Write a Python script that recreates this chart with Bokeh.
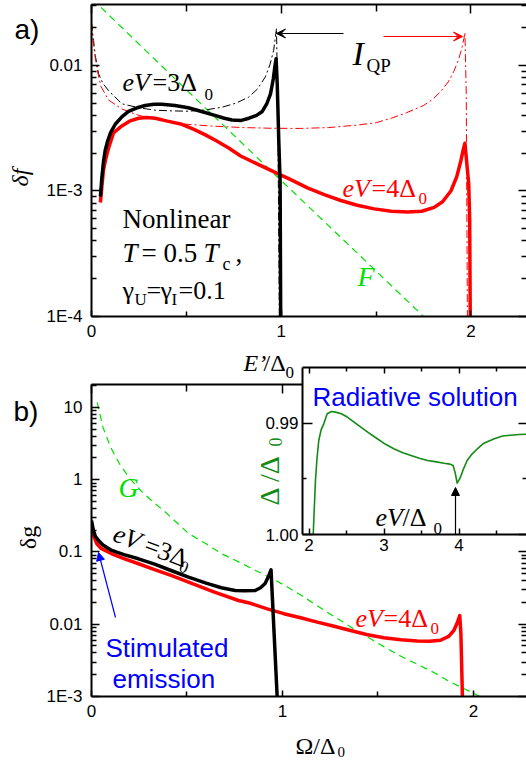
import math
from bokeh.plotting import figure
from bokeh.models import (Range1d, LinearAxis, LogAxis, FixedTicker, CustomJSTickFormatter,
                          Label, Arrow, VeeHead, NormalHead)
from bokeh.layouts import column
from bokeh.embed import file_html
from bokeh.resources import INLINE

# ---------------- data: panel a (delta f vs E'/Delta0) ----------------
E_a3 = [0.047, 0.055, 0.063, 0.072, 0.085, 0.1, 0.125, 0.16, 0.195, 0.24, 0.283, 0.33, 0.37, 0.44,
        0.51, 0.58, 0.65, 0.70, 0.74, 0.79, 0.83, 0.87, 0.90, 0.925, 0.943, 0.958, 0.966, 0.973,
        0.979, 0.987, 0.994, 0.997]
df_a3 = [0.0009, 0.0013, 0.0017, 0.0021, 0.0025, 0.0029, 0.0034, 0.0039, 0.0043, 0.0046, 0.0048,
         0.0049, 0.0049, 0.0048, 0.0046, 0.0043, 0.0040, 0.0038, 0.00368, 0.00365, 0.0038, 0.0040,
         0.0043, 0.0050, 0.0059, 0.0078, 0.0097, 0.0113, 0.0070, 0.0025, 0.0012, 0.0001]

E_a4 = [0.047, 0.055, 0.063, 0.075, 0.09, 0.116, 0.16, 0.2, 0.248, 0.29, 0.336, 0.4, 0.476, 0.54,
        0.6, 0.66, 0.723, 0.786, 0.87, 0.962, 1.05, 1.138, 1.23, 1.314, 1.4, 1.49, 1.58, 1.666,
        1.74, 1.806, 1.85, 1.894, 1.925, 1.947, 1.958, 1.968, 1.988, 1.993, 1.996]
df_a4 = [0.00081, 0.0011, 0.00146, 0.0018, 0.0022, 0.0029, 0.0033, 0.0036, 0.0038, 0.00385, 0.0038,
         0.0036, 0.0034, 0.0031, 0.0028, 0.0025, 0.0022, 0.0019, 0.00165, 0.00142, 0.00123, 0.00106,
         0.00093, 0.00084, 0.00077, 0.00072, 0.00069, 0.00068, 0.00069, 0.00074, 0.00082, 0.0010,
         0.0013, 0.00175, 0.0021, 0.0024, 0.00114, 0.0006, 0.0001]

E_a3i = [0.0, 0.006, 0.011, 0.02, 0.037, 0.06, 0.09, 0.16, 0.25, 0.336, 0.42, 0.512, 0.6, 0.688,
         0.76, 0.828, 0.875, 0.916, 0.94, 0.96, 0.975, 0.982, 0.99]
If_a3 = [0.022, 0.018, 0.0158, 0.012, 0.0086, 0.0072, 0.0063, 0.00495, 0.0046, 0.0044, 0.00435,
         0.00432, 0.00442, 0.00465, 0.0050, 0.00559, 0.0065, 0.0081, 0.0101, 0.0132, 0.0197, 0.004,
         0.0001]

E_a4i = [0.0, 0.006, 0.011, 0.02, 0.03, 0.05, 0.09, 0.16, 0.25, 0.35, 0.5, 0.65, 0.8, 0.95, 1.1,
         1.25, 1.4, 1.5, 1.58, 1.66, 1.75, 1.8, 1.84, 1.88, 1.91, 1.935, 1.952, 1.963, 1.968, 1.975,
         1.981]
If_a4 = [0.022, 0.017, 0.0145, 0.0115, 0.0092, 0.0068, 0.0053, 0.0045, 0.0040, 0.0037, 0.0034,
         0.00328, 0.0032, 0.00316, 0.00315, 0.0032, 0.00335, 0.0035, 0.0038, 0.0042, 0.0048, 0.0054,
         0.0062, 0.0074, 0.0090, 0.0112, 0.0138, 0.0165, 0.0183, 0.006, 0.0001]

F_E = [0.05, 0.5, 1.0, 1.5, 1.75]
F_val = [0.029, 0.0064, 0.00121, 0.00023, 0.0001]

# ---------------- data: panel b (delta g vs Omega/Delta0) ----------------
Om_b3 = [0.0, 0.01, 0.02, 0.037, 0.06, 0.106, 0.17, 0.246, 0.33, 0.42, 0.508, 0.6, 0.68, 0.752,
         0.8, 0.857, 0.885, 0.909, 0.925, 0.94, 0.972]
dg_b3 = [0.273, 0.2, 0.165, 0.144, 0.125, 0.105, 0.092, 0.0805, 0.068, 0.055, 0.0448, 0.037, 0.032,
         0.0293, 0.029, 0.0293, 0.032, 0.0366, 0.045, 0.0567, 0.001]

Om_b4 = [0.0, 0.01, 0.028, 0.05, 0.106, 0.17, 0.246, 0.33, 0.42, 0.508, 0.64, 0.77, 0.832, 0.92,
         1.007, 1.1, 1.182, 1.27, 1.356, 1.44, 1.53, 1.62, 1.705, 1.77, 1.827, 1.87, 1.897, 1.915,
         1.928, 1.934, 1.942]
dg_b4 = [0.245, 0.17, 0.13, 0.112, 0.0944, 0.081, 0.0687, 0.057, 0.047, 0.0382, 0.028, 0.0213,
         0.0195, 0.0163, 0.0140, 0.0122, 0.0107, 0.0094, 0.0082, 0.0072, 0.00649, 0.0061, 0.00585,
         0.00582, 0.006, 0.0068, 0.0082, 0.0105, 0.0132, 0.0074, 0.001]

Om_G = [0.03, 0.06, 0.1, 0.15, 0.2, 0.257, 0.32, 0.385, 0.45, 0.508, 0.6, 0.683, 0.77, 0.857, 0.93,
        1.007, 1.1, 1.182, 1.27, 1.356, 1.44, 1.53, 1.62, 1.705, 1.8, 1.88, 1.96, 2.04]
G_val = [11.8, 5.3, 2.82, 1.6, 1.05, 0.71, 0.5, 0.36, 0.25, 0.18, 0.13, 0.094, 0.073, 0.056, 0.045,
         0.035, 0.025, 0.018, 0.0128, 0.0092, 0.0068, 0.0049, 0.0036, 0.0028, 0.0021, 0.00158,
         0.00125, 0.00098]

# ---------------- data: inset (Delta/Delta0 vs eV/Delta0) ----------------
eV_in = [2.055, 2.07, 2.085, 2.105, 2.129, 2.16, 2.196, 2.241, 2.3, 2.352, 2.43, 2.51, 2.6, 2.69,
         2.8, 2.91, 3.02, 3.13, 3.25, 3.36, 3.47, 3.58, 3.7, 3.8, 3.88, 3.921, 3.95, 3.975, 4.0,
         4.019, 4.06, 4.108, 4.17, 4.245, 4.33, 4.47, 4.58, 4.69, 4.8, 4.9]
Delta_in = [1.000, 0.9975, 0.99515, 0.9932, 0.99156, 0.9906, 0.99006, 0.98916, 0.98895, 0.98901,
            0.98915, 0.98945, 0.9899, 0.99036, 0.9909, 0.9914, 0.9919, 0.9923, 0.99265, 0.9929,
            0.99315, 0.99335, 0.99348, 0.9936, 0.99368, 0.9938, 0.9945, 0.99539, 0.9951, 0.99485,
            0.9941, 0.99335, 0.9928, 0.9923, 0.9918, 0.9914, 0.99115, 0.99108, 0.99102, 0.991]

# ---------------- ticks ----------------
x_major = [0, 1, 2]
x_minor = [0.5, 1.5]
ya_major = [1e-4, 1e-3, 1e-2]
ya_labels = ["1E-4", "1E-3", "0.01"]
yb_major = [1e-3, 1e-2, 0.1, 1.0, 10.0]
yb_labels = ["1E-3", "0.01", "0.1", "1", "10"]
xi_major = [2, 3, 4, 5]
xi_labels = ["2", "3", "4", "5"]
xi_minor = [2.5, 3.5, 4.5]
yi_major = [0.99, 1.00]
yi_labels = ["0.99", "1.00"]
yi_minor = [0.995]


def log_minor(e0, e1):
    return [m * 10.0 ** e for e in range(e0, e1) for m in range(2, 10)]


SERIF = "Liberation Serif"
SANS = "Liberation Sans"
GREEN = "#00e000"
DKGREEN = "#138a13"
BLUE = "#0000ff"
RED = "#ff0000"
DASHDOT = "8 3 2 3"
LEFT = 91  # common left border of the panel figures (Bokeh aligns them in a column)


def fmt(vals, labs, log=False):
    code = """
    for (let i = 0; i < vals.length; i++) {
      const d = %s;
      if (d < 1e-6) return labs[i];
    }
    return "";
    """ % ("Math.abs(Math.log10(tick) - Math.log10(vals[i]))" if log else "Math.abs(tick - vals[i])")
    return CustomJSTickFormatter(args=dict(vals=vals, labs=labs), code=code)


def style(ax, show=True, tin=8, tmin=5, standoff=9, line=True):
    ax.axis_line_width = 2
    ax.axis_line_color = "black" if line else None
    ax.major_tick_in = tin
    ax.major_tick_out = 0
    ax.minor_tick_in = tmin
    ax.minor_tick_out = 0
    ax.major_tick_line_width = 1.5
    ax.minor_tick_line_width = 1.5
    ax.major_tick_line_color = "black"
    ax.minor_tick_line_color = "black"
    ax.major_label_text_font = SANS
    ax.major_label_text_color = "black"
    if show:
        ax.major_label_text_font_size = "17px"
        ax.major_label_standoff = standoff
    else:
        ax.formatter = CustomJSTickFormatter(code="return '';")
        ax.major_label_text_font_size = "1px"
        ax.major_label_standoff = 0


def clean(p, bg="white", border="white"):
    p.xgrid.visible = False
    p.ygrid.visible = False
    p.outline_line_color = None
    p.background_fill_color = bg
    p.border_fill_color = border


# ================= panel a =================
pa = figure(width=526, height=376, x_range=Range1d(0, 2.2925), y_range=Range1d(1e-4, 0.0306),
            y_axis_type="log", output_backend="svg", toolbar_location=None,
            min_border_left=LEFT, min_border_right=0, min_border_top=4, min_border_bottom=60)
clean(pa)
pa.xaxis.ticker = FixedTicker(ticks=x_major, minor_ticks=x_minor)
pa.yaxis.ticker = FixedTicker(ticks=ya_major, minor_ticks=log_minor(-4, -1))
pa.yaxis.formatter = fmt(ya_major, ya_labels, log=True)
style(pa.xaxis[0], True, 6, 5, 8)
style(pa.yaxis[0], True, 8, 5, 9)
ta = LinearAxis(ticker=FixedTicker(ticks=x_major, minor_ticks=x_minor))
style(ta, False, 9, 7)
pa.add_layout(ta, "above")
ra = LogAxis(ticker=FixedTicker(ticks=ya_major, minor_ticks=log_minor(-4, -1)))
style(ra, False, 8, 5, line=False)
pa.add_layout(ra, "right")

pa.line(F_E, F_val, line_color=GREEN, line_width=1.2, line_dash="7 5")
pa.line(E_a3i, If_a3, line_color="black", line_width=1, line_dash=DASHDOT)
pa.line(E_a4i, If_a4, line_color=RED, line_width=1, line_dash=DASHDOT)
pa.line(E_a4, df_a4, line_color=RED, line_width=3.5, line_join="round")
pa.line(E_a3, df_a3, line_color="black", line_width=3.5, line_join="round")

# ================= panel b =================
pb = figure(width=526, height=385, x_range=Range1d(0, 2.2775), y_range=Range1d(1e-3, 20.8),
            y_axis_type="log", output_backend="svg", toolbar_location=None,
            min_border_left=LEFT, min_border_right=0, min_border_top=8, min_border_bottom=65)
clean(pb)
pb.xaxis.ticker = FixedTicker(ticks=x_major, minor_ticks=x_minor)
pb.yaxis.ticker = FixedTicker(ticks=yb_major, minor_ticks=log_minor(-3, 2))
pb.yaxis.formatter = fmt(yb_major, yb_labels, log=True)
style(pb.xaxis[0], True, 6, 5, 8)
style(pb.yaxis[0], True, 8, 5, 9)
tb = LinearAxis(ticker=FixedTicker(ticks=x_major, minor_ticks=x_minor))
style(tb, False, 9, 7)
pb.add_layout(tb, "above")
rb = LogAxis(ticker=FixedTicker(ticks=yb_major, minor_ticks=log_minor(-3, 2)))
style(rb, False, 8, 5, line=False)
pb.add_layout(rb, "right")

pb.line(Om_G, G_val, line_color=GREEN, line_width=1.2, line_dash="7 5")
pb.line(Om_b4, dg_b4, line_color=RED, line_width=3.5, line_join="round")
pb.line(Om_b3, dg_b3, line_color="black", line_width=3.5, line_join="round")

# ================= inset (canvas x 211..526, frame x 302..526, y 367..534) =================
pi_ = figure(width=315, height=200, x_range=Range1d(1.912, 4.9), y_range=Range1d(1.00, 0.985),
             output_backend="svg", toolbar_location=None,
             min_border_left=LEFT, min_border_right=0, min_border_top=5, min_border_bottom=28)
clean(pi_, bg="white", border=None)
pi_.xaxis.ticker = FixedTicker(ticks=xi_major, minor_ticks=xi_minor)
pi_.xaxis.formatter = fmt(xi_major, xi_labels)
pi_.yaxis.ticker = FixedTicker(ticks=yi_major, minor_ticks=yi_minor)
pi_.yaxis.formatter = fmt(yi_major, yi_labels)
style(pi_.xaxis[0], True, 6, 4, 4)
style(pi_.yaxis[0], True, 10, 4, 4)
ti = LinearAxis(ticker=FixedTicker(ticks=xi_major, minor_ticks=xi_minor))
style(ti, False, 6, 4)
pi_.add_layout(ti, "above")
ri = LinearAxis(ticker=FixedTicker(ticks=yi_major, minor_ticks=yi_minor))
style(ri, False, 8, 4, line=False)
pi_.add_layout(ri, "right")
pi_.line(eV_in, Delta_in, line_color=DKGREEN, line_width=1.6, line_join="round")
pi_.margin = (-399, 0, 199, 211)

# ================= text overlay (page pixel coordinates; frame = whole page) =================
ov = figure(width=526, height=761, x_range=Range1d(0, 526), y_range=Range1d(761, 0),
            output_backend="svg", toolbar_location=None,
            min_border_left=0, min_border_right=0, min_border_top=0, min_border_bottom=0,
            x_axis_location=None, y_axis_location=None)
ov.grid.visible = False
ov.outline_line_color = None
ov.background_fill_color = None
ov.border_fill_color = None


def lab(x, y, text, size, font=SERIF, style_="normal", color="black", angle=0.0,
        align="left", baseline="alphabetic"):
    ov.add_layout(Label(x=x, y=y, text=text, text_font=font, text_font_size=f"{size}px",
                        text_font_style=style_, text_color=color, angle=angle,
                        text_align=align, text_baseline=baseline))


def arrow(x0, y0, x1, y1, color, head):
    ov.add_layout(Arrow(end=head, x_start=x0, y_start=y0, x_end=x1, y_end=y1,
                        line_color=color, line_width=1.2))


# arrows
arrow(343, 33, 276, 33, "black", VeeHead(size=9, line_color="black", fill_color="black", line_width=1))
arrow(383, 36, 462, 36, RED, VeeHead(size=9, line_color=RED, fill_color=RED, line_width=1))
arrow(115, 617, 98, 552, BLUE, NormalHead(size=8, line_color=BLUE, fill_color=BLUE, line_width=1))
arrow(455, 534, 455, 487, "black", NormalHead(size=8, line_color="black", fill_color="black", line_width=1))

# panel a texts
lab(14, 29, "a)", 28, font=SANS)
lab(19, 177, "δf", 24, style_="italic", angle=math.pi / 2, align="center", baseline="middle")
lab(122, 82, "eV", 26, style_="italic")
lab(152, 82, "=3Δ", 26)
lab(204, 94, "0", 17)
lab(352, 53, "I", 34, style_="italic")
lab(366, 65, "QP", 19)
lab(342, 188, "eV", 26, style_="italic", color=RED)
lab(371, 188, "=4Δ", 26, color=RED)
lab(418, 198, "0", 17, color=RED)
lab(122, 218, "Nonlinear", 27)
lab(122, 252, "T", 27, style_="italic")
lab(141, 252, "= 0.5", 27)
lab(203, 252, "T", 27, style_="italic")
lab(222, 263, "c", 18)
lab(235, 252, ",", 27)
lab(122, 290, "γ", 26)
lab(134, 299, "U", 17)
lab(146, 290, "=", 26)
lab(160, 290, "γ", 26)
lab(171, 299, "I", 17)
lab(178, 290, "=0.1", 26)
lab(357, 276, "F", 28, style_="italic", color=GREEN)
lab(243, 362, "E’", 24, style_="italic")
lab(263, 362, "/Δ", 24)
lab(285, 372, "0", 17)

# panel b texts
lab(13, 411, "b)", 28, font=SANS)
lab(27, 537, "δg", 24, angle=math.pi / 2, align="center", baseline="middle")
lab(118, 487, "G", 28, style_="italic", color=GREEN)
ang = 0.36
P0 = (114.0, 532.0)
for txt, d, n, sz, st in [("eV", 0, 0, 26, "italic"), ("=3Δ", 33, 0, 26, "normal"),
                          ("0", 73, 8, 17, "normal")]:
    qx = P0[0] + d * math.cos(ang) - n * math.sin(ang)
    qy = P0[1] + d * math.sin(ang) + n * math.cos(ang)
    lab(qx, qy, txt, sz, style_=st, angle=-ang)
lab(355, 618, "eV", 26, style_="italic", color=RED)
lab(383, 618, "=4Δ", 26, color=RED)
lab(430, 628, "0", 17, color=RED)
lab(105, 647, "Stimulated", 26, font=SANS, color=BLUE)
lab(112, 678, "emission", 26, font=SANS, color=BLUE)
lab(295, 745, "Ω/Δ", 24)
lab(337, 751, "0", 15)

# inset texts
lab(312, 396, "Radiative solution", 26, font=SANS, color=BLUE)
lab(375, 517, "eV", 26, style_="italic")
lab(402, 517, "/Δ", 26)
lab(433, 528, "0", 17)
lab(269, 505, "Δ /Δ", 28, color=DKGREEN, angle=math.pi / 2)
lab(275, 446, "0", 18, color=DKGREEN, angle=math.pi / 2)

ov_box = column(ov)
ov_box.margin = (-761, 0, 0, 0)

layout = column(pa, pb, pi_, ov_box)
open("out.html", "w").write(file_html(layout, INLINE))
